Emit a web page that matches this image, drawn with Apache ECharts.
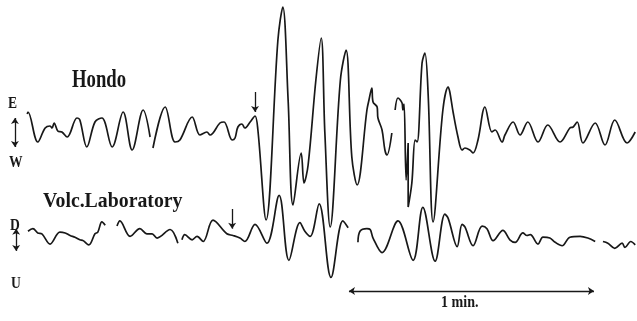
<!DOCTYPE html>
<html>
<head>
<meta charset="utf-8">
<script src="https://cdn.jsdelivr.net/npm/echarts@6/dist/echarts.min.js"></script>
<style>
  html, body { margin: 0; padding: 0; background: #fff; }
  #chart { width: 637px; height: 321px; }
</style>
</head>
<body>
<div id="chart"></div>
<script>
// time in seconds from start of record, amplitude in arbitrary trace units
// Hondo (E-W component), three pieces of the trace
var hondoSeg1 = [[-0.2,14],[0,16],[2.4,-14],[4.2,0],[5.4,2],[5.9,0],[6.4,5],[7.3,-3],[8.3,-4],[9.6,-9],
  [12.0,10],[12.7,8],[14.4,-19],[16.4,6],[18.1,10],[20.6,-19],[23.3,16],[25.5,-22],[28.2,18],[29.9,-9]];
var hondoSeg2 = [[30.6,-20],[33.6,21],[36.0,-14],[37.2,-12],[40.2,11],[42.1,-7],[43.8,-4],[44.6,-7],[47.0,5],
  [48.0,6],[50.0,-12],[50.7,-10],[51.4,1],[52.4,4],[53.1,0],[54.4,6],[55.6,12],[56.3,-2],[58.3,-92],
  [61.2,88],[62.4,121],[63.7,28],[64.9,-77],[66.9,-25],[67.6,-55],[68.6,-37],[70.5,48],[71.8,90],
  [72.7,-5],[74.0,-99],[76.5,48],[77.9,78],[79.3,-29],[80.6,-57],[83.0,18],[83.5,28],[84.2,40],
  [84.5,26],[85.5,21],[85.7,10],[86.7,-2],[87.4,-22],[87.9,-27],[89.1,-5]];
var hondoSeg3 = [[89.9,18],[90.6,30],[91.6,25],[91.8,18],[92.1,24],[92.6,-52],[93.1,-15],[93.1,-79],
  [94.0,-55],[94.8,-12],[95.3,-14],[96.5,65],[97.2,75],[98.0,33],[99.2,-94],[101.6,18],[102.9,41],
  [103.3,36],[104.1,16],[105.3,-9],[106.3,-22],[107.0,-20],[108.2,-22],[109.0,-25],[110.2,-12],
  [111.9,21],[113.6,-4],[114.4,-2],[116.1,-14],[116.8,-7],[118.8,6],[120.5,-7],[122.4,6],[124.9,-14],
  [127.3,3],[130.3,-14],[132.7,0],[133.5,1],[134.5,6],[135.9,-15],[138.9,5],[141.3,-17],[143.7,8],
  [146.7,-15],[148.7,-4]];

// Volc. Laboratory (D-U component)
var volcSeg1 = [[0,5],[1.2,8],[2.4,3],[3.4,2],[5.4,-10],[7.8,4],[9.1,3],[10.3,0],[11.5,-2],[12.7,-5],
  [13.5,-6],[14.9,-11],[16.4,2],[17.1,4],[18.1,16],[18.9,12]];
var volcSeg2 = [[21.8,11],[22.5,17],[25.0,-1],[27.4,8],[29.1,2],[30.4,2],[31.6,-3],[34.8,7],[36.7,-9]];
var volcSeg3 = [[37.7,-5],[38.4,1],[40.2,-5],[41.4,-1],[42.9,-7],[45.3,18],[48.7,2],[50.2,0],[51.9,-3],
  [53.1,-7],[55.6,13],[58.5,-9],[61.5,47],[63.9,-29],[66.6,15],[67.8,5],[69.1,-1],[71.3,37],[74.2,-49],
  [77.1,17],[78.4,9]];
var volcSeg4 = [[80.8,-8],[81.3,5],[83.0,8],[83.8,7],[84.5,-3],[86.7,-20],[90.6,17],[94.3,-29],[96.7,33],
  [99.7,-30],[102.1,25],[102.9,20],[105.1,-13],[106.3,13],[107.0,10],[109.0,-12],[111.2,11],[112.4,8],
  [113.9,-6],[116.3,6],[118.0,-5],[119.3,-8],[121.2,3],[122.2,0],[123.0,1],[124.9,-10],[126.1,-2],
  [127.8,-3],[129.1,-8],[130.8,-12],[132.7,-2],[135.2,-1],[137.1,-3],[138.9,-7]];
var volcSeg5 = [[140.8,-7],[142.0,-9],[143.7,-15],[145.5,-9],[146.2,-14],[147.6,-7],[148.7,-11]];

// onset arrows, scale bar
var hondoOnset = 55.6;
var volcOnset = 50.0;
var minuteBar = [78.6, 138.6];

var ink = '#181818';
var serif = '"Liberation Serif", "DejaVu Serif", serif';

function trace(data, idx) {
  return {
    type: 'line',
    xAxisIndex: idx,
    yAxisIndex: idx,
    data: data,
    showSymbol: false,
    smooth: 0.35,
    lineStyle: { color: ink, width: 1.7 },
    silent: true
  };
}

function arrowLine(a, b, both) {
  return {
    silent: true,
    symbol: [both ? 'arrow' : 'none', 'arrow'],
    symbolSize: 6,
    label: { show: false },
    lineStyle: { color: ink, width: 1.3, type: 'solid' },
    data: [[{ coord: a }, { coord: b }]]
  };
}

var series = [
  trace(hondoSeg1, 0), trace(hondoSeg2, 0), trace(hondoSeg3, 0),
  trace(volcSeg1, 1), trace(volcSeg2, 1), trace(volcSeg3, 1), trace(volcSeg4, 1), trace(volcSeg5, 1)
];
// markers
series.push({ type: 'line', xAxisIndex: 0, yAxisIndex: 0, data: [],
  markLine: arrowLine([hondoOnset, 36], [hondoOnset, 16], false) });
series.push({ type: 'line', xAxisIndex: 0, yAxisIndex: 0, data: [],
  markLine: arrowLine([-3.2, 10], [-3.2, -19], true) });
series.push({ type: 'line', xAxisIndex: 1, yAxisIndex: 1, data: [],
  markLine: arrowLine([volcOnset, 31], [volcOnset, 8], false) });
series.push({ type: 'line', xAxisIndex: 1, yAxisIndex: 1, data: [],
  markLine: arrowLine([-2.9, 8], [-2.9, -18], true) });
series.push({ type: 'line', xAxisIndex: 1, yAxisIndex: 1, data: [],
  markLine: arrowLine([minuteBar[0], -65], [minuteBar[1], -65], true) });

function label(txt, x, y, size, sx, weight) {
  return {
    type: 'text', x: x, y: y, scaleX: sx, silent: true,
    style: { text: txt, fill: ink, font: (weight || 'bold') + ' ' + size + 'px ' + serif,
      textVerticalAlign: 'middle' }
  };
}

var chart = echarts.init(document.getElementById('chart'));
chart.setOption({
  animation: false,
  backgroundColor: '#fff',
  grid: [
    { left: 0, right: 0, top: 0, height: 256 },
    { left: 0, right: 0, top: 150, height: 200 }
  ],
  xAxis: [
    { type: 'value', gridIndex: 0, min: -6.857, max: 149.14, show: false },
    { type: 'value', gridIndex: 1, min: -6.857, max: 149.14, show: false }
  ],
  yAxis: [
    { type: 'value', gridIndex: 0, min: -128, max: 128, show: false },
    { type: 'value', gridIndex: 1, min: -100, max: 100, show: false }
  ],
  graphic: [
    label('Hondo', 72, 80, 26, 0.72),
    label('Volc.Laboratory', 43, 201, 22, 0.9),
    label('E', 8, 104, 16, 0.85),
    label('W', 9, 163, 16, 0.85),
    label('D', 10, 226, 16, 0.85),
    label('U', 11, 284, 16, 0.85),
    label('1 min.', 441, 303, 16, 0.88)
  ],
  series: series
});
</script>
</body>
</html>
